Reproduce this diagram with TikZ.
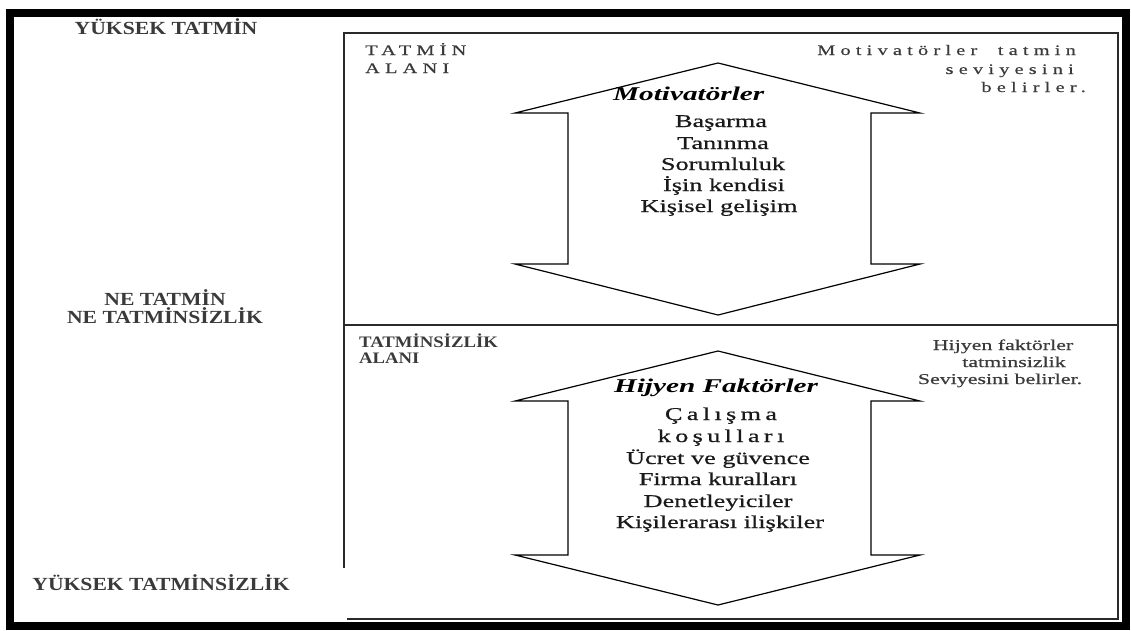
\documentclass[tikz,border=0pt]{standalone}
\usepackage{fontspec}
\setmainfont{Liberation Serif}
\newfontfamily\levelfont[FakeStretch=1.17]{Liberation Serif}
\newfontfamily\listfont[FakeStretch=1.46,FakeBold=0.6]{Liberation Serif}
\newfontfamily\headfont[FakeStretch=1.5]{Liberation Serif}
\newfontfamily\widelistfont[FakeStretch=1.46,FakeBold=0.6,LetterSpace=24]{Liberation Serif}
\newfontfamily\spacedfont[FakeStretch=1.4,FakeBold=0.5,LetterSpace=36]{Liberation Serif}
\usetikzlibrary{positioning}
\definecolor{labelgray}{HTML}{3A3A3A}
\definecolor{linegray}{HTML}{2A2A2A}
\definecolor{textblack}{HTML}{1A1A1A}

\begin{document}
\begin{tikzpicture}[x=1pt, y=-1pt,
    level/.style={font=\levelfont\bfseries\fontsize{18.5}{20}\selectfont, text=labelgray, inner sep=0pt, anchor=base},
    zone/.style={font=\spacedfont\fontsize{14.5}{16}\selectfont, text=labelgray, inner sep=0pt},
    zonebold/.style={font=\levelfont\bfseries\fontsize{16}{16}\selectfont, text=labelgray, inner sep=0pt, anchor=base west},
    note/.style={font=\listfont\fontsize{15}{16}\selectfont, text=labelgray, inner sep=0pt, anchor=base},
    item/.style={font=\listfont\fontsize{18}{20}\selectfont, text=textblack, inner sep=0pt, anchor=base},
    wideitem/.style={font=\widelistfont\fontsize{18}{20}\selectfont, text=textblack, inner sep=0pt, anchor=base},
    heading/.style={font=\headfont\bfseries\itshape\fontsize{19.5}{20}\selectfont, text=black, inner sep=0pt},
    bigarrow/.style={draw=black, line width=1.2pt, line join=miter}]
    \useasboundingbox (0,0) rectangle (1131,630);

    % Outer frame
    \draw[line width=8pt] (10,13) rectangle (1126,626);

    % Inner box with the two zones
    \draw[linegray, line width=1.5pt] (344,568) -- (344,33) -- (1118,33) -- (1118,619) -- (347,619);
    \draw[linegray, line width=1.5pt] (344,325) -- (1118,325);

    % Levels
    \node[level] (hightop) at (166,34) {YÜKSEK TATMİN};
    \node[level] (neutrala) at (165,305) {NE TATMİN};
    \node[level] (neutralb) at (165,323) {NE TATMİNSİZLİK};
    \node[level] (highbot) at (161,590) {YÜKSEK TATMİNSİZLİK};

    % Satisfaction zone
    \node[zone, anchor=base west] (zonetopa) at (365,55) {TATMİN};
    \node[zone, anchor=base west] (zonetopb) at (365,73) {ALANI};
    \node[zone, anchor=base east] (motnotea) at (1076,55) {Motivatörler\ \ tatmin};
    \node[zone, anchor=base east] (motnoteb) at (1074,74) {seviyesini};
    \node[zone, anchor=base east] (motnotec) at (1086,92) {belirler.};

    \draw[bigarrow] (718,63) -- (920,113) -- (871,113) -- (871,264) -- (920,264)
        -- (718,315) -- (515,264) -- (568,264) -- (568,113) -- (515,113) -- cycle;

    \node[heading, anchor=base west] (motivators) at (613,100) {Motivatörler};
    \node[item] (basarma) at (721,127) {Başarma};
    \node[item] (taninma) at (723,149) {Tanınma};
    \node[item] (sorumluluk) at (723,170) {Sorumluluk};
    \node[item] (isin) at (724,191) {İşin kendisi};
    \node[item] (kisisel) at (719,212) {Kişisel gelişim};

    % Dissatisfaction zone
    \node[zonebold] (zonebota) at (359,347) {TATMİNSİZLİK};
    \node[zonebold] (zonebotb) at (359,363) {ALANI};
    \node[note] (hygnotea) at (1003,350) {Hijyen faktörler};
    \node[note] (hygnoteb) at (1014,367) {tatminsizlik};
    \node[note] (hygnotec) at (1000,384) {Seviyesini belirler.};

    \draw[bigarrow] (718,351) -- (920,401) -- (871,401) -- (871,555) -- (920,555)
        -- (718,605) -- (515,555) -- (568,555) -- (568,401) -- (515,401) -- cycle;

    \node[heading, anchor=base] (hygiene) at (716,392) {Hijyen Faktörler};
    \node[wideitem] (calisma) at (721,420) {Çalışma};
    \node[wideitem] (kosullari) at (721,442) {koşulları};
    \node[item] (ucret) at (718,464) {Ücret ve güvence};
    \node[item] (firma) at (718,485) {Firma kuralları};
    \node[item] (denetleyici) at (718,507) {Denetleyiciler};
    \node[item] (kisiler) at (720,528) {Kişilerarası ilişkiler};
\end{tikzpicture}
\end{document}
